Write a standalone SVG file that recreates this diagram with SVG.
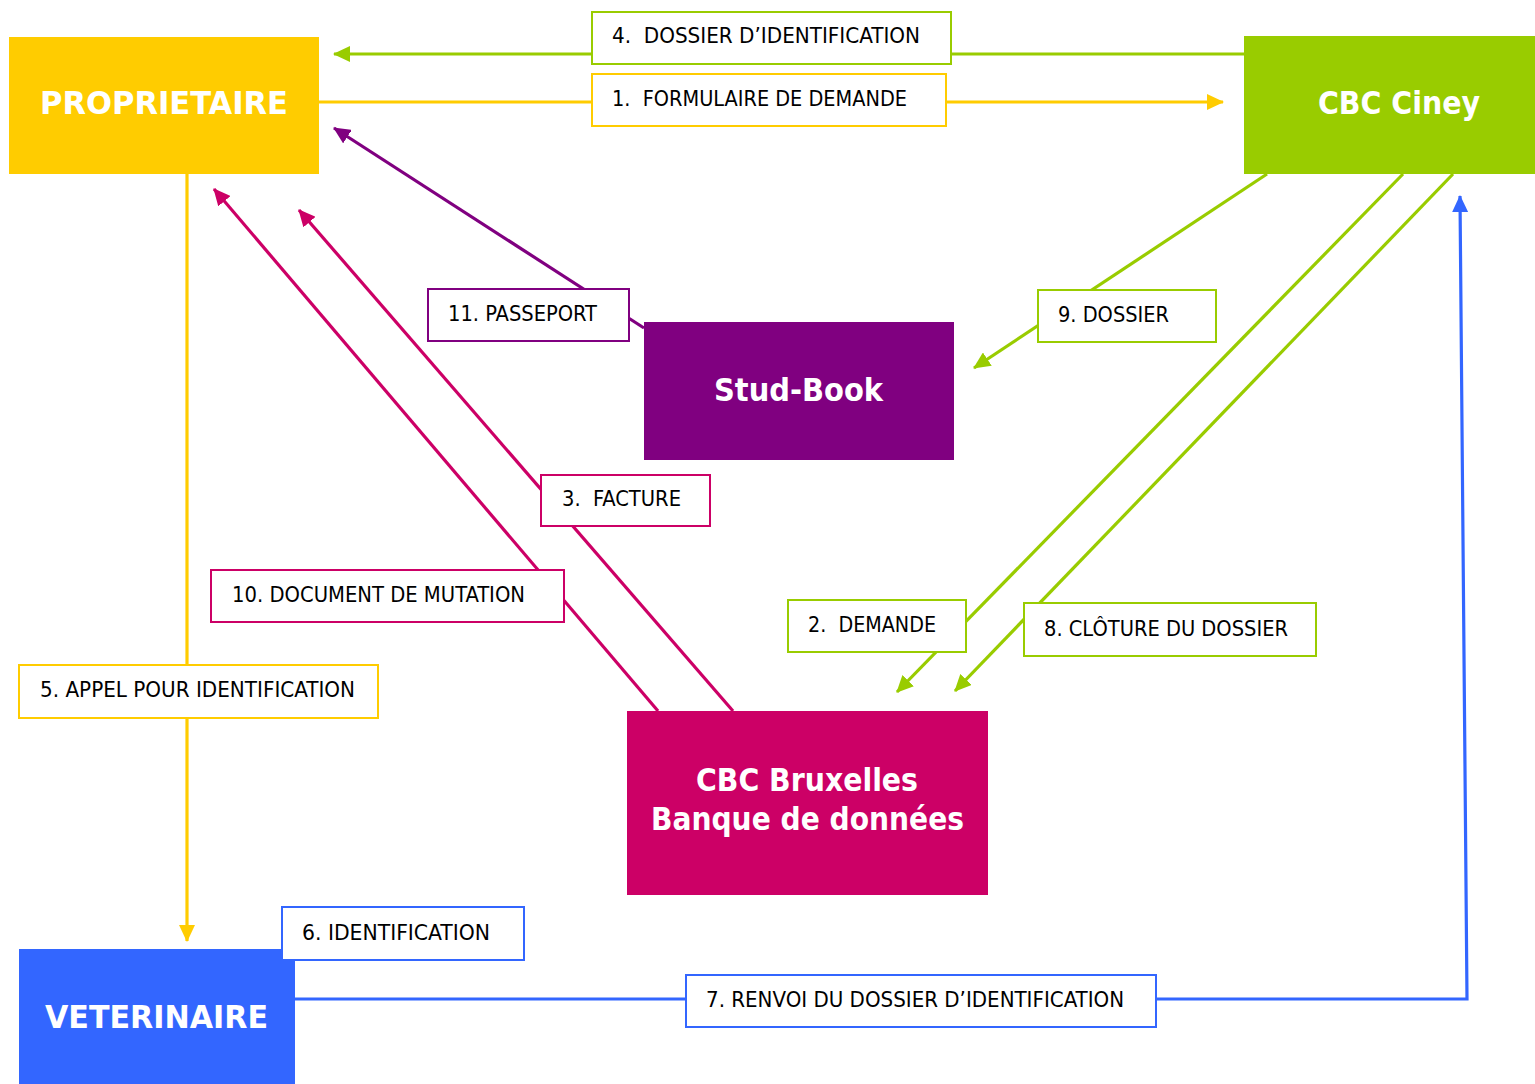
<svg xmlns="http://www.w3.org/2000/svg" width="1535" height="1084" viewBox="0 0 1535 1084">
<style>
.node{font-family:"DejaVu Sans Condensed","DejaVu Sans","Liberation Sans",sans-serif;font-weight:bold;font-size:32px;fill:#ffffff}
.lbl{font-family:"DejaVu Sans Condensed","DejaVu Sans","Liberation Sans",sans-serif;font-size:21.5px;fill:#000000}
.box{fill:#ffffff;stroke-width:2}
.ln{fill:none;stroke-width:3.2}
.g{stroke:#99CC00}.y{stroke:#FFCC00}.p{stroke:#800080}.r{stroke:#CC0066}.b{stroke:#3366FF}
</style>
<defs>
<marker id="ag" markerUnits="userSpaceOnUse" markerWidth="17" markerHeight="16" refX="16" refY="8" orient="auto"><path d="M0,0 L17,8 L0,16 z" fill="#99CC00"/></marker>
<marker id="ay" markerUnits="userSpaceOnUse" markerWidth="17" markerHeight="16" refX="16" refY="8" orient="auto"><path d="M0,0 L17,8 L0,16 z" fill="#FFCC00"/></marker>
<marker id="ap" markerUnits="userSpaceOnUse" markerWidth="17" markerHeight="16" refX="16" refY="8" orient="auto"><path d="M0,0 L17,8 L0,16 z" fill="#800080"/></marker>
<marker id="ar" markerUnits="userSpaceOnUse" markerWidth="17" markerHeight="16" refX="16" refY="8" orient="auto"><path d="M0,0 L17,8 L0,16 z" fill="#CC0066"/></marker>
<marker id="ab" markerUnits="userSpaceOnUse" markerWidth="17" markerHeight="16" refX="16" refY="8" orient="auto"><path d="M0,0 L17,8 L0,16 z" fill="#3366FF"/></marker>
</defs>
<rect width="1535" height="1084" fill="#ffffff"/>

<g id="connectors">
<line class="ln g" x1="1244" y1="54" x2="334" y2="54" marker-end="url(#ag)"/>
<line class="ln y" x1="319" y1="102" x2="1223" y2="102" marker-end="url(#ay)"/>
<line class="ln p" x1="644" y1="328" x2="334" y2="128" marker-end="url(#ap)"/>
<line class="ln g" x1="1267" y1="174" x2="974" y2="368" marker-end="url(#ag)"/>
<line class="ln r" x1="733" y1="711" x2="299" y2="210" marker-end="url(#ar)"/>
<line class="ln r" x1="658" y1="711" x2="214" y2="189" marker-end="url(#ar)"/>
<line class="ln g" x1="1403" y1="174" x2="897" y2="692" marker-end="url(#ag)"/>
<line class="ln g" x1="1453" y1="174" x2="955" y2="691" marker-end="url(#ag)"/>
<line class="ln y" x1="187" y1="174" x2="187" y2="941" marker-end="url(#ay)"/>
<path class="ln b" d="M295,999 H1467 L1460,196" marker-end="url(#ab)"/>
</g>

<g id="proprietaire">
<rect x="9" y="37" width="310" height="137" fill="#FFCC00"/>
<text class="node" x="40" y="114" textLength="248" lengthAdjust="spacingAndGlyphs">PROPRIETAIRE</text>
</g>
<g id="cbc-ciney">
<rect x="1244" y="36" width="291" height="138" fill="#99CC00"/>
<text class="node" x="1318" y="114" textLength="162" lengthAdjust="spacingAndGlyphs">CBC Ciney</text>
</g>
<g id="stud-book">
<rect x="644" y="322" width="310" height="138" fill="#800080"/>
<text class="node" x="714" y="401" textLength="169" lengthAdjust="spacingAndGlyphs">Stud-Book</text>
</g>
<g id="cbc-bruxelles">
<rect x="627" y="711" width="361" height="184" fill="#CC0066"/>
<text class="node" x="696" y="791" textLength="222" lengthAdjust="spacingAndGlyphs">CBC Bruxelles</text>
<text class="node" x="651" y="830" textLength="313" lengthAdjust="spacingAndGlyphs">Banque de données</text>
</g>
<g id="veterinaire">
<rect x="19" y="949" width="276" height="135" fill="#3366FF"/>
<text class="node" x="45" y="1028" textLength="223" lengthAdjust="spacingAndGlyphs">VETERINAIRE</text>
</g>

<g id="label-4">
<rect class="box g" x="592" y="12" width="359" height="52"/>
<text class="lbl" x="612" y="43" textLength="308" lengthAdjust="spacingAndGlyphs" xml:space="preserve">4.  DOSSIER D’IDENTIFICATION</text>
</g>
<g id="label-1">
<rect class="box y" x="592" y="74" width="354" height="52"/>
<text class="lbl" x="612" y="106" textLength="295" lengthAdjust="spacingAndGlyphs" xml:space="preserve">1.  FORMULAIRE DE DEMANDE</text>
</g>
<g id="label-11">
<rect class="box p" x="428" y="289" width="201" height="52"/>
<text class="lbl" x="448" y="321" textLength="149" lengthAdjust="spacingAndGlyphs">11. PASSEPORT</text>
</g>
<g id="label-9">
<rect class="box g" x="1038" y="290" width="178" height="52"/>
<text class="lbl" x="1058" y="322" textLength="111" lengthAdjust="spacingAndGlyphs">9. DOSSIER</text>
</g>
<g id="label-3">
<rect class="box r" x="541" y="475" width="169" height="51"/>
<text class="lbl" x="562" y="506" textLength="119" lengthAdjust="spacingAndGlyphs" xml:space="preserve">3.  FACTURE</text>
</g>
<g id="label-10">
<rect class="box r" x="211" y="570" width="353" height="52"/>
<text class="lbl" x="232" y="602" textLength="293" lengthAdjust="spacingAndGlyphs">10. DOCUMENT DE MUTATION</text>
</g>
<g id="label-2">
<rect class="box g" x="788" y="600" width="178" height="52"/>
<text class="lbl" x="808" y="632" textLength="128" lengthAdjust="spacingAndGlyphs" xml:space="preserve">2.  DEMANDE</text>
</g>
<g id="label-8">
<rect class="box g" x="1024" y="603" width="292" height="53"/>
<text class="lbl" x="1044" y="636" textLength="244" lengthAdjust="spacingAndGlyphs">8. CLÔTURE DU DOSSIER</text>
</g>
<g id="label-5">
<rect class="box y" x="19" y="665" width="359" height="53"/>
<text class="lbl" x="40" y="697" textLength="315" lengthAdjust="spacingAndGlyphs">5. APPEL POUR IDENTIFICATION</text>
</g>
<g id="label-6">
<rect class="box b" x="282" y="907" width="242" height="53"/>
<text class="lbl" x="302" y="940" textLength="188" lengthAdjust="spacingAndGlyphs">6. IDENTIFICATION</text>
</g>
<g id="label-7">
<rect class="box b" x="686" y="975" width="470" height="52"/>
<text class="lbl" x="706" y="1007" textLength="418" lengthAdjust="spacingAndGlyphs">7. RENVOI DU DOSSIER D’IDENTIFICATION</text>
</g>
</svg>
